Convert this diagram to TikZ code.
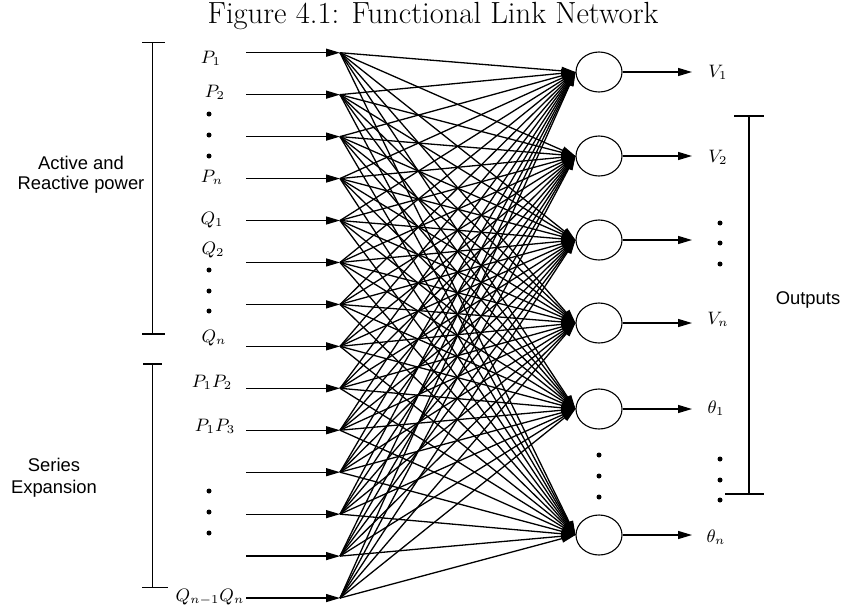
\documentclass[tikz,border=0pt]{standalone}
\usepackage{fontspec}
\newfontfamily\labelfont{Liberation Sans}
\usetikzlibrary{arrows.meta,shapes.geometric}

\begin{document}
\begin{tikzpicture}[x=0.5pt,y=-0.5pt,>={Triangle[length=7pt,width=4pt]},
  neuron/.style={draw,ellipse,minimum width=23pt,minimum height=20pt,inner sep=0pt,line width=0.55pt},
  wire/.style={->,line width=0.65pt},
  lab/.style={font=\fontsize{9}{10}\selectfont,inner sep=0pt},
  side/.style={font=\labelfont\fontsize{9.2}{10}\selectfont,align=center,inner sep=0pt},
  brace/.style={line width=0.6pt}]
  \useasboundingbox (0,0) rectangle (845,605);
  % title
  \node[font=\fontsize{15.3}{18}\selectfont,inner sep=0pt] (title) at (433,16) {Figure 4.1: Functional Link Network};
  % input rows
  \foreach \i in {0,...,13}{
    \pgfmathsetmacro{\yy}{52.7+41.95*\i}
    \coordinate (s\i) at (246,\yy);
    \coordinate (h\i) at (340,\yy);
    \draw[wire] (s\i) -- (h\i);
  }
  % output neurons
  \foreach \j/\yy in {1/72,2/156,3/240,4/323,5/409,6/535}{
    \node[neuron] (o\j) at (599,\yy) {};
    \coordinate (t\j) at (692,\yy);
    \draw[wire] (o\j.east) -- (t\j);
  }
  % every input to every neuron
  \foreach \i in {0,...,13}
    \foreach \j in {1,...,6}
      \draw[wire] (h\i) -- (o\j.west);
  % input labels
  \node[lab] (p1) at (211,58) {$P_1$};
  \node[lab] (p2) at (215,92) {$P_2$};
  \node[lab] (pn) at (212,177) {$P_n$};
  \node[lab] (q1) at (212,220) {$Q_1$};
  \node[lab] (q2) at (213,250) {$Q_2$};
  \node[lab] (qn) at (214,338) {$Q_n$};
  \node[lab] (p12) at (212,382) {$P_1P_2$};
  \node[lab] (p13) at (215,426) {$P_1P_3$};
  \node[lab] (qq) at (210,597) {$Q_{n-1}Q_n$};
  \foreach \yy in {114,135,156,270,291,311,491,512,533}
    \fill (209,\yy) circle (1.25pt);
  % output labels
  \node[lab] (v1) at (718,72) {$V_1$};
  \node[lab] (v2) at (718,157) {$V_2$};
  \node[lab] (vn) at (718,319) {$V_n$};
  \node[lab] (th1) at (716,408) {$\theta_1$};
  \node[lab] (thn) at (716,537) {$\theta_n$};
  \foreach \yy in {223,243,264,459,480,500}
    \fill (720,\yy) circle (1.25pt);
  \foreach \yy in {455,476,497}
    \fill (599,\yy) circle (1.25pt);
  % brackets
  \draw[brace] (142,42.7) -- (165,42.7) (152.7,42.7) -- (152.7,334) (142,334) -- (165,334);
  \draw[brace] (143,364) -- (162,364) (152.7,364) -- (152.7,587.3) (142,587.3) -- (168,587.3);
  \draw[brace] (734,116) -- (764,116) (749,116) -- (749,494) (725,494) -- (764,494);
  \node[side] (act) at (81,175) {Active and\\Reactive power};
  \node[side] (ser) at (54,478) {Series\\[1pt]Expansion};
  \node[side] (outl) at (808,300) {Outputs};
\end{tikzpicture}
\end{document}
